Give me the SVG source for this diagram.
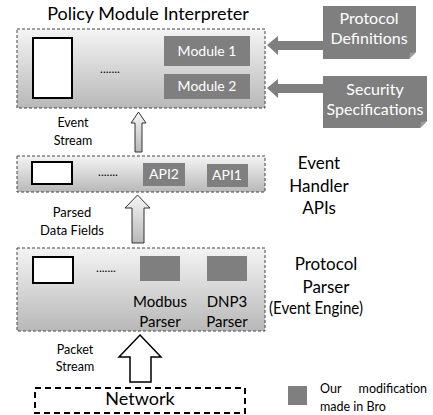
<svg xmlns="http://www.w3.org/2000/svg" width="433" height="415" viewBox="0 0 433 415">
<defs>
<linearGradient id="boxg" x1="0" y1="0" x2="0" y2="1">
<stop offset="0" stop-color="#f4f4f4"/>
<stop offset="1" stop-color="#b8b8b8"/>
</linearGradient>
<linearGradient id="arrg" x1="0" y1="0" x2="0" y2="1">
<stop offset="0" stop-color="#f6f6f6"/>
<stop offset="1" stop-color="#b8b8b8"/>
</linearGradient>
<style>
.box{fill:url(#boxg);stroke:#444;stroke-width:1;stroke-dasharray:3,2}
.white{fill:#fff;stroke:#000;stroke-width:2}
.mod{fill:#7f7f7f}
.t{font-family:Lato,"Liberation Sans",sans-serif;fill:#000;text-anchor:middle}
.tw{font-family:Lato,"Liberation Sans",sans-serif;fill:#fff;text-anchor:middle}
.dots{font-family:Lato,"Liberation Sans",sans-serif;font-size:12px;fill:#000;text-anchor:middle}
.leg{font-family:Lato,"Liberation Sans",sans-serif;font-size:12.5px;fill:#000}
</style>
</defs>

<g id="policy-module-interpreter">
<text class="t" x="148" y="20" font-size="18">Policy Module Interpreter</text>
<rect class="box" x="17" y="29" width="248" height="79"/>
<rect class="white" x="33" y="38" width="39" height="60"/>
<text class="dots" x="110" y="73">.......</text>
<rect class="mod" x="164" y="36" width="86" height="30"/>
<text class="tw" x="207" y="56" font-size="14">Module 1</text>
<rect class="mod" x="164" y="74" width="86" height="25"/>
<text class="tw" x="207" y="91" font-size="14">Module 2</text>
</g>

<g id="protocol-definitions">
<path class="mod" d="M323,6 H416 V52 L409,59 H323 Z"/>
<path d="M416,52 L409,59 L410,53 Z" fill="#9a9a9a"/>
<text class="tw" x="369" y="24" font-size="16">Protocol</text>
<text class="tw" x="369" y="44" font-size="16">Definitions</text>
</g>

<g id="security-specifications">
<path class="mod" d="M323,76 H427 V121 L420,128 H323 Z"/>
<path d="M427,121 L420,128 L421,122 Z" fill="#9a9a9a"/>
<text class="tw" x="375" y="95" font-size="16">Security</text>
<text class="tw" x="375" y="115" font-size="16">Specifications</text>
</g>

<g id="event-handler-apis">
<rect class="box" x="17" y="156" width="248" height="36"/>
<rect class="white" x="32" y="162" width="40" height="22"/>
<text class="dots" x="108" y="176">.......</text>
<rect class="mod" x="143" y="163" width="42" height="23"/>
<text class="tw" x="164" y="179" font-size="14">API2</text>
<rect class="mod" x="207" y="164" width="41" height="23"/>
<text class="tw" x="227" y="180" font-size="14">API1</text>
<text class="t" x="319" y="169" font-size="17">Event</text>
<text class="t" x="319" y="192" font-size="17">Handler</text>
<text class="t" x="319" y="214" font-size="17">APIs</text>
</g>

<g id="protocol-parser">
<rect class="box" x="17" y="248" width="248" height="83"/>
<rect class="white" x="33" y="257" width="40" height="26"/>
<text class="dots" x="106" y="272">.......</text>
<rect class="mod" x="140" y="256" width="40" height="25"/>
<rect class="mod" x="207" y="256" width="40" height="25"/>
<text class="t" x="160" y="307" font-size="15">Modbus</text>
<text class="t" x="160" y="327" font-size="15">Parser</text>
<text class="t" x="227" y="307" font-size="15">DNP3</text>
<text class="t" x="227" y="327" font-size="15">Parser</text>
<text class="t" x="326" y="270" font-size="17">Protocol</text>
<text class="t" x="326" y="293" font-size="17">Parser</text>
<text class="t" x="316" y="314" font-size="17" textLength="94" lengthAdjust="spacingAndGlyphs">(Event Engine)</text>
</g>

<g id="network">
<rect x="35" y="388" width="210" height="25" fill="none" stroke="#000" stroke-width="2" stroke-dasharray="6,4"/>
<text class="t" x="140" y="405" font-size="18">Network</text>
</g>

<g id="legend">
<rect class="mod" x="288" y="386" width="19" height="19"/>
<text class="leg" y="393"><tspan x="320">Our</tspan><tspan x="427" text-anchor="end">modification</tspan></text>
<text class="leg" x="320" y="411">made in Bro</text>
</g>

<g id="connectors">
<path d="M267,45 L278,36 L278,41 L323,41 L323,50 L278,50 L278,55 Z" fill="#7f7f7f"/>
<path d="M267,88 L278,79 L278,84 L323,84 L323,93 L278,93 L278,98 Z" fill="#7f7f7f"/>
<path d="M138.5,112 L146,123 L142,123 L142,152 L135,152 L135,123 L131,123 Z" fill="url(#arrg)" stroke="#333" stroke-width="1"/>
<path d="M137.5,195 L150,208 L144,208 L144,243 L132,243 L132,208 L125,208 Z" fill="url(#arrg)" stroke="#333" stroke-width="1"/>
<path d="M140,335 L161,357 L151,357 L151,382 L130,382 L130,357 L119,357 Z" fill="#fff" stroke="#000" stroke-width="1.5"/>
<text class="t" x="73" y="127" font-size="12.5">Event</text>
<text class="t" x="73" y="145" font-size="12.5">Stream</text>
<text class="t" x="72" y="217" font-size="13">Parsed</text>
<text class="t" x="72" y="235" font-size="13">Data Fields</text>
<text class="t" x="75" y="354" font-size="12.5">Packet</text>
<text class="t" x="75" y="371" font-size="12.5">Stream</text>
</g>
</svg>
